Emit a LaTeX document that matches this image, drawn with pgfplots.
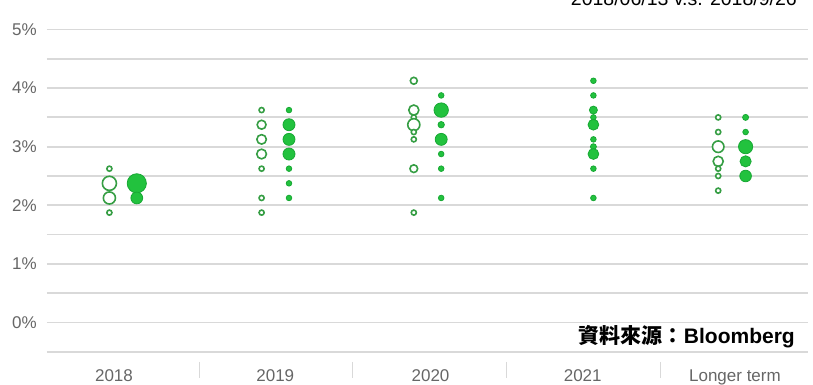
\documentclass[border=0pt]{standalone}
\usepackage{pgfplots}
\pgfplotsset{compat=1.18}
\usepackage{pgfplotstable}
\usepackage{fontspec}
\setmainfont{Liberation Sans}
\newfontfamily\cjk{Noto Sans CJK TC}
\definecolor{gridc}{HTML}{D9D9D9}
\definecolor{tickc}{HTML}{666666}
\definecolor{openc}{HTML}{369E44}
\definecolor{fillc}{HTML}{22C23E}
\definecolor{filld}{HTML}{18A834}

% June 2018 (open) : x, y, mark size
\pgfplotstableread{
x y r
-0.09 2.625 2.55
-0.09 2.375 7.05
-0.09 2.125 6.05
-0.09 1.875 2.55
0.91 3.625 2.55
0.91 3.375 4.45
0.91 3.125 4.75
0.91 2.875 4.85
0.91 2.625 2.55
0.91 2.125 2.55
0.91 1.875 2.55
1.91 4.125 3.45
1.91 3.625 5.05
1.91 3.5 2.55
1.91 3.375 6.05
1.91 3.25 2.55
1.91 3.125 2.55
1.91 2.625 3.85
1.91 1.875 2.55
3.91 3.5 2.55
3.91 3.25 2.55
3.91 3.0 5.75
3.91 2.75 5.05
3.91 2.625 2.55
3.91 2.5 2.55
3.91 2.25 2.55
}\junedata

% September 2018 (filled)
\pgfplotstableread{
x y r
0.09 2.375 9.6
0.09 2.125 5.9
1.09 3.625 2.8
1.09 3.375 6.0
1.09 3.125 6.0
1.09 2.875 6.0
1.09 2.625 2.8
1.09 2.375 2.8
1.09 2.125 2.8
2.09 3.875 2.8
2.09 3.625 7.2
2.09 3.375 3.2
2.09 3.125 6.0
2.09 2.875 2.8
2.09 2.625 2.8
2.09 2.125 2.8
3.09 4.125 2.8
3.09 3.875 2.8
3.09 3.625 4.0
3.09 3.5 2.8
3.09 3.375 5.4
3.09 3.125 2.8
3.09 3.0 3.0
3.09 2.875 5.4
3.09 2.625 2.8
3.09 2.125 2.8
4.09 3.5 3.0
4.09 3.25 2.8
4.09 3.0 7.1
4.09 2.75 5.6
4.09 2.5 5.8
}\septdata

\begin{document}
\begin{tikzpicture}
\useasboundingbox (0,0) rectangle (813pt,385pt);
\begin{axis}[
  at={(47pt,33.2pt)}, anchor=south west,
  scale only axis, width=761pt, height=322.3pt,
  xmin=-0.5, xmax=4.5, ymin=-0.5, ymax=5,
  axis line style={draw=none},
  xtick={-0.06,1.0,2.02,3.02,4.02},
  xticklabels={2018,2019,2020,2021,Longer term},
  ytick={0,1,2,3,4,5},
  yticklabels={0\%,1\%,2\%,3\%,4\%,5\%},
  minor ytick={-0.5,0.5,1.5,2.5,3.5,4.5},
  ymajorgrids, yminorgrids,
  major grid style={gridc, line width=1.8pt},
  minor grid style={gridc, line width=1.8pt},
  major tick length=0pt, minor tick length=0pt,
  ticklabel style={font=\fontsize{17}{20}\selectfont, text=tickc},
  yticklabel style={inner sep=0pt, anchor=east, xshift=-10pt},
  xticklabel style={inner sep=0pt, anchor=base, yshift=-30pt},
  clip=false,
]
\draw[gridc, line width=1pt] (axis cs:0.5,-0.674) -- (axis cs:0.5,-0.947);
\draw[gridc, line width=1pt] (axis cs:1.51,-0.674) -- (axis cs:1.51,-0.947);
\draw[gridc, line width=1pt] (axis cs:2.516,-0.674) -- (axis cs:2.516,-0.947);
\draw[gridc, line width=1pt] (axis cs:3.528,-0.674) -- (axis cs:3.528,-0.947);

\addplot[scatter, only marks, mark=*, line width=1.6pt,
  mark options={line width=1.6pt},
  scatter/use mapped color={draw=openc, fill=white},
  visualization depends on={\thisrow{r}\as\rr},
  scatter/@pre marker code/.append style={/tikz/mark size=\rr},
  ]
  table[x=x,y=y] {\junedata};

\addplot[scatter, only marks, mark=*, line width=0.8pt,
  mark options={line width=0.8pt},
  scatter/use mapped color={draw=filld, fill=fillc},
  visualization depends on={\thisrow{r}\as\rr},
  scatter/@pre marker code/.append style={/tikz/mark size=\rr},
  ]
  table[x=x,y=y] {\septdata};
\end{axis}
\node[anchor=base east, inner sep=0pt, font=\fontsize{19.5}{21}\selectfont] at (797pt,379.5pt) {2018/06/13 v.s. 2018/9/26};
\node[anchor=east, inner sep=0pt, font=\fontsize{21}{23}\selectfont] at (795pt,48pt) {{\cjk\bfseries 資料來源：}{\bfseries Bloomberg}};
\end{tikzpicture}
\end{document}
